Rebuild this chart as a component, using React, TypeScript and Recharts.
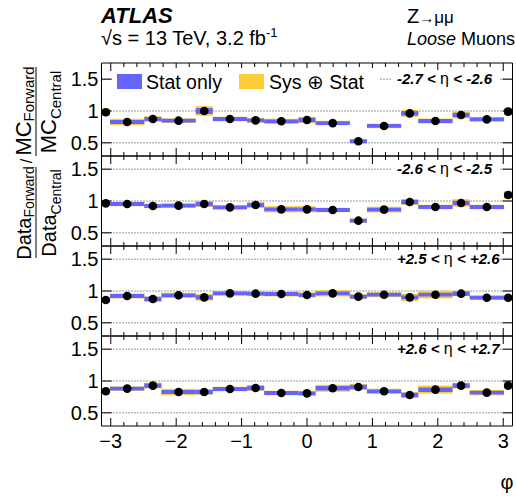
import React from "react";
import {
  ComposedChart,
  Scatter,
  XAxis,
  YAxis,
  ReferenceArea,
  CartesianGrid,
} from "recharts";

const FONT = "'Liberation Sans', Arial, Helvetica, sans-serif";
const STAT_COLOR = "#6464ff";
const SYS_COLOR = "#ffcc33";

// phi bin edges (small / large sectors alternate)
const phiEdges = [
  -3.1416, -3.0107, -2.4871, -2.2253, -1.7017, -1.4399, -0.9163, -0.6545,
  -0.1309, 0.1309, 0.6545, 0.9163, 1.4399, 1.7017, 2.2253, 2.4871, 3.0107,
  3.1416,
];

const xTicks = [
  -3, -2.8, -2.6, -2.4, -2.2, -2, -1.8, -1.6, -1.4, -1.2, -1, -0.8, -0.6, -0.4,
  -0.2, 0, 0.2, 0.4, 0.6, 0.8, 1, 1.2, 1.4, 1.6, 1.8, 2, 2.2, 2.4, 2.6, 2.8, 3,
];
const xMajor = [-3, -2, -1, 0, 1, 2, 3];
const xMajorLabels = ["\u22123", "\u22122", "\u22121", "0", "1", "2", "3"];
const yTicks = [0.5, 1, 1.5];
const yTickLabels = ["0.5", "1", "1.5"];

const etaLabels = [
  ["-2.7", "-2.6"],
  ["-2.6", "-2.5"],
  ["+2.5", "+2.6"],
  ["+2.6", "+2.7"],
];

// ratio values per eta slice
const ratioEta1 = [0.98, 0.827, 0.874, 0.848, 1.0, 0.874, 0.853, 0.838, 0.859, 0.81, 0.524, 0.765, 0.963, 0.843, 0.937, 0.869, 0.99];
const ratioEta2 = [0.963, 0.953, 0.921, 0.927, 0.953, 0.9, 0.937, 0.869, 0.869, 0.859, 0.691, 0.864, 0.984, 0.906, 0.969, 0.906, 1.094];
const ratioEta3 = [0.859, 0.921, 0.874, 0.932, 0.9, 0.963, 0.958, 0.953, 0.937, 0.963, 0.911, 0.942, 0.9, 0.942, 0.958, 0.895, 0.895];
const ratioEta4 = [0.838, 0.88, 0.927, 0.827, 0.827, 0.874, 0.89, 0.812, 0.806, 0.885, 0.906, 0.838, 0.78, 0.864, 0.927, 0.817, 0.927];

// stat-only half widths
const statEta1 = [0.035, 0.03, 0.03, 0.03, 0.045, 0.03, 0.03, 0.03, 0.035, 0.03, 0.03, 0.03, 0.035, 0.03, 0.035, 0.03, 0.045];
const statEta2 = [0.03, 0.03, 0.03, 0.03, 0.035, 0.03, 0.035, 0.03, 0.03, 0.03, 0.03, 0.03, 0.035, 0.03, 0.035, 0.03, 0.045];
const statEta3 = [0.035, 0.03, 0.035, 0.03, 0.035, 0.03, 0.03, 0.03, 0.03, 0.03, 0.03, 0.03, 0.03, 0.03, 0.035, 0.03, 0.035];
const statEta4 = [0.035, 0.03, 0.035, 0.03, 0.035, 0.03, 0.035, 0.03, 0.03, 0.035, 0.035, 0.03, 0.035, 0.035, 0.035, 0.03, 0.04];

// sys (+) stat half widths
const sysEta1 = [0.06, 0.05, 0.045, 0.035, 0.075, 0.035, 0.04, 0.04, 0.05, 0.035, 0.035, 0.035, 0.055, 0.04, 0.055, 0.035, 0.06];
const sysEta2 = [0.035, 0.035, 0.035, 0.035, 0.045, 0.035, 0.04, 0.05, 0.05, 0.035, 0.035, 0.045, 0.045, 0.035, 0.06, 0.035, 0.06];
const sysEta3 = [0.04, 0.04, 0.04, 0.04, 0.05, 0.035, 0.04, 0.04, 0.04, 0.05, 0.04, 0.04, 0.06, 0.06, 0.04, 0.035, 0.04];
const sysEta4 = [0.04, 0.035, 0.045, 0.05, 0.04, 0.035, 0.045, 0.035, 0.04, 0.055, 0.045, 0.04, 0.045, 0.065, 0.045, 0.04, 0.045];

const ratios = [ratioEta1, ratioEta2, ratioEta3, ratioEta4];
const stats = [statEta1, statEta2, statEta3, statEta4];
const syss = [sysEta1, sysEta2, sysEta3, sysEta4];

const panelTops = [63, 156, 246, 336, 426];
const yDomains = [
  [0.293, 1.754],
  [0.293, 1.707],
  [0.293, 1.707],
  [0.293, 1.707],
];
const PHI_MIN = -3.1416;
const PHI_MAX = 3.1416;

function isMajor(v: number) {
  return Math.abs(v - Math.round(v)) < 1e-6;
}

function Panel({ idx }: { idx: number }) {
  const top = panelTops[idx];
  const h = panelTops[idx + 1] - top;
  const last = idx === 3;
  const bottomPad = last ? 40 : 1;
  const pts = ratios[idx].map((y, i) => ({
    x: (phiEdges[i] + phiEdges[i + 1]) / 2,
    y,
    lo: phiEdges[i],
    hi: phiEdges[i + 1],
    stat: stats[idx][i],
    sys: syss[idx][i],
  }));

  // axes each reserve 1px, so margins are reduced by 1
  return (
    <div style={{ position: "absolute", left: 0, top: top - 1 }}>
      <ComposedChart
        width={516}
        height={h + 1 + bottomPad}
        margin={{ top: 0, right: 2.5, bottom: bottomPad - 1, left: 100.5 }}
      >
        <CartesianGrid
          vertical={false}
          horizontalValues={yTicks}
          stroke="#333"
          strokeDasharray="1 2"
        />
        <XAxis
          dataKey="x"
          type="number"
          domain={[PHI_MIN, PHI_MAX]}
          allowDataOverflow
          ticks={xTicks}
          interval={0}
          height={1}
          tickSize={0}
          tickMargin={0}
          axisLine={{ stroke: "#000" }}
          tickLine={false}
          tick={(p: any) => {
            const v = p.payload.value;
            const major = isMajor(v);
            const k = xMajor.indexOf(Math.round(v));
            return (
              <g>
                <line x1={p.x} x2={p.x} y1={p.y} y2={p.y - (major ? 8 : 4)} stroke="#000" />
                {last && major && (
                  <text x={p.x} y={p.y + 22} textAnchor="middle" fontSize={20} fontFamily={FONT} fill="#000">
                    {xMajorLabels[k]}
                  </text>
                )}
              </g>
            );
          }}
        />
        <XAxis
          xAxisId="top"
          orientation="top"
          type="number"
          dataKey="x"
          domain={[PHI_MIN, PHI_MAX]}
          allowDataOverflow
          ticks={xTicks}
          interval={0}
          height={1}
          tickSize={0}
          tickMargin={0}
          axisLine={{ stroke: "#000" }}
          tickLine={false}
          tick={(p: any) => {
            const major = isMajor(p.payload.value);
            return <line x1={p.x} x2={p.x} y1={p.y} y2={p.y + (major ? 8 : 4)} stroke="#000" />;
          }}
        />
        <YAxis
          type="number"
          domain={yDomains[idx]}
          allowDataOverflow
          ticks={yTicks}
          interval={0}
          width={1}
          tickSize={0}
          tickMargin={0}
          axisLine={{ stroke: "#000" }}
          tickLine={false}
          tick={(p: any) => {
            const k = yTicks.indexOf(p.payload.value);
            return (
              <g>
                <line x1={p.x} x2={p.x + 10} y1={p.y} y2={p.y} stroke="#000" />
                <text x={p.x - 3} y={p.y} dy="0.36em" textAnchor="end" fontSize={20} fontFamily={FONT} fill="#000">
                  {yTickLabels[k]}
                </text>
              </g>
            );
          }}
        />
        <YAxis
          yAxisId="right"
          orientation="right"
          type="number"
          domain={yDomains[idx]}
          allowDataOverflow
          ticks={yTicks}
          interval={0}
          width={1}
          tickSize={0}
          tickMargin={0}
          axisLine={{ stroke: "#000" }}
          tickLine={false}
          tick={(p: any) => <line x1={p.x} x2={p.x - 10} y1={p.y} y2={p.y} stroke="#000" />}
        />
        {pts.map((d, i) => (
          <ReferenceArea
            key={`sys-${i}`}
            x1={d.lo}
            x2={d.hi}
            y1={d.y - d.sys}
            y2={d.y + d.sys}
            fill={SYS_COLOR}
            fillOpacity={1}
            stroke="none"
            ifOverflow="visible"
          />
        ))}
        {pts.map((d, i) => (
          <ReferenceArea
            key={`stat-${i}`}
            x1={d.lo}
            x2={d.hi}
            y1={d.y - d.stat}
            y2={d.y + d.stat}
            fill={STAT_COLOR}
            fillOpacity={1}
            stroke="none"
            ifOverflow="visible"
          />
        ))}
        <Scatter
          data={pts}
          dataKey="y"
          isAnimationActive={false}
          shape={(p: any) => <circle cx={p.cx} cy={p.cy} r={4.3} fill="#000" />}
        />
      </ComposedChart>
    </div>
  );
}

function EtaLabel({ idx, y }: { idx: number; y: number }) {
  const [a, b] = etaLabels[idx];
  return (
    <g>
      <rect x={392} y={y - 9} width={108} height={18} fill="#fff" />
      <text x={397} y={y + 5} fontSize={15} fontFamily={FONT} fill="#000">
        <tspan fontWeight="bold" fontStyle="italic">{a} &lt; </tspan>
        <tspan fontSize={16}> η </tspan>
        <tspan fontWeight="bold" fontStyle="italic"> &lt; {b}</tspan>
      </text>
    </g>
  );
}

export default function App() {
  const labelYs = [79, 169, 259, 349];
  return (
    <div style={{ position: "absolute", left: 0, top: 0, width: 516, height: 496, background: "#fff" }}>
      {[0, 1, 2, 3].map((i) => (
        <Panel key={i} idx={i} />
      ))}
      <svg
        width={516}
        height={496}
        style={{ position: "absolute", left: 0, top: 0, pointerEvents: "none" }}
        fontFamily={FONT}
      >
        <text x={101} y={23} fontSize={22} fontWeight="bold" fontStyle="italic">ATLAS</text>
        <text x={407} y={23} fontSize={20}>
          Z
          <tspan fontSize={15}>→</tspan>
          <tspan fontSize={17}>μμ</tspan>
        </text>
        <text x={101} y={44.5} fontSize={20}>
          √s = 13 TeV, 3.2 fb<tspan dy={-8} fontSize={13}>-1</tspan>
        </text>
        <text x={407} y={44.5} fontSize={18}>
          <tspan fontStyle="italic">Loose</tspan> Muons
        </text>

        {/* legend */}
        <rect x={112} y={68} width={268} height={26} fill="#fff" />
        <rect x={117} y={74} width={25} height={15} fill={STAT_COLOR} />
        <text x={146} y={89} fontSize={19.5}>Stat only</text>
        <rect x={239} y={74} width={25} height={15} fill={SYS_COLOR} />
        <text x={269} y={89} fontSize={19.5}>Sys ⊕ Stat</text>

        {labelYs.map((y, i) => (
          <EtaLabel key={i} idx={i} y={y} />
        ))}

        {/* y title */}
        <g transform="translate(31,111) rotate(-90)">
          <text textAnchor="middle" fontSize={22}>
            MC<tspan fontSize={15} dy={3}>Forward</tspan>
          </text>
        </g>
        <line x1={36} x2={36} y1={67} y2={156} stroke="#000" />
        <g transform="translate(56,112) rotate(-90)">
          <text textAnchor="middle" fontSize={22}>
            MC<tspan fontSize={15} dy={5}>Central</tspan>
          </text>
        </g>
        <g transform="translate(32,161) rotate(-90)">
          <text textAnchor="middle" fontSize={16}>/</text>
        </g>
        <g transform="translate(31,213) rotate(-90)">
          <text textAnchor="middle" fontSize={20}>
            Data<tspan fontSize={14} dy={3}>Forward</tspan>
          </text>
        </g>
        <line x1={36} x2={36} y1={167} y2={258} stroke="#000" />
        <g transform="translate(56,213) rotate(-90)">
          <text textAnchor="middle" fontSize={20}>
            Data<tspan fontSize={14} dy={5}>Central</tspan>
          </text>
        </g>

        <text x={507} y={489} fontSize={20} textAnchor="middle">φ</text>
      </svg>
    </div>
  );
}
